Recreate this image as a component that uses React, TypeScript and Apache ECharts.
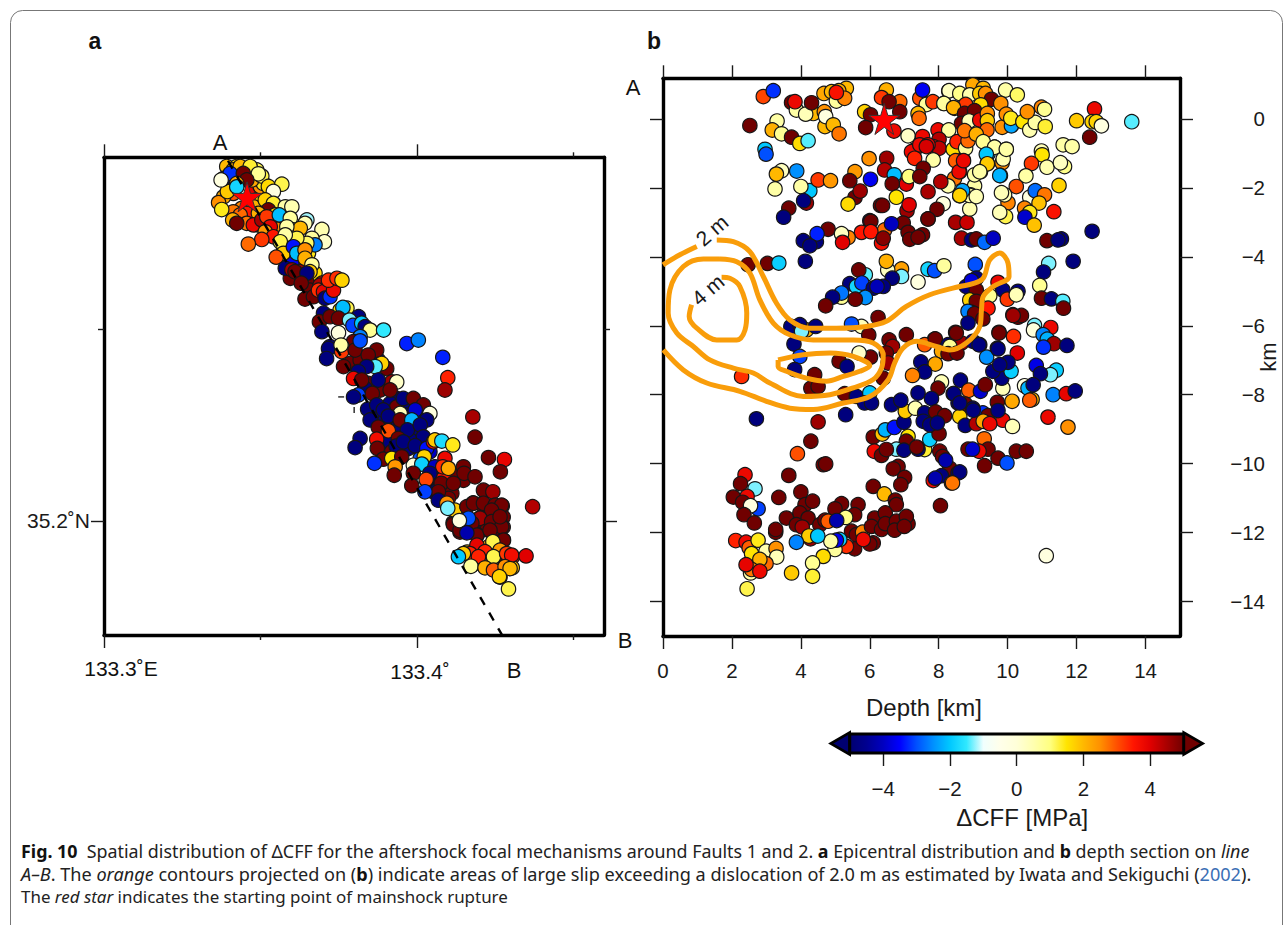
import React, { useEffect, useRef } from "react";
import * as echarts from "echarts";

type P = [number, number, number];

const colorStops = ["#000070","#000090","#0000c0","#0000ff","#0050ff","#0090ff","#00c8ff","#30e8ff","#f0fffe","#ffffea","#ffffd8","#ffffb0","#ffff80","#ffe400","#ffb800","#ff9000","#ff5000","#ff1500","#e00000","#a80000","#700000"];
const colorbarTicks = [-4, -2, 0, 2, 4];

const lonMajor = [133.3, 133.4];
const lonMinor = [133.35, 133.45];
const latMajor = [35.2];
const latMinor = [35.25];
const depthTicks = [0, 2, 4, 6, 8, 10, 12, 14];
const kmTicks = [0, -2, -4, -6, -8, -10, -12, -14];

const mapStar: [number, number] = [133.3457, 35.2844];
const sectionStar: [number, number] = [6.42, 0];
const profileLine = [[133.3396, 35.2938], [133.4275, 35.1698]];
const crossH = [[133.3748, 35.2323], [133.3767, 35.2323]];
const crossV = [[133.3799, 35.2297], [133.3799, 35.2281]];

const mapPoints: P[] = [
[133.3392,35.2923,2],[133.3424,35.2923,1.6],[133.3451,35.2914,2.4],[133.3403,35.2879,1.5],[133.3413,35.2853,3],[133.3382,35.2844,2.2],[133.3440,35.2814,2.6],[133.3477,35.2862,4],[133.3488,35.2836,1.7],[133.3504,35.2818,5],[133.3477,35.2818,2.1],[133.3525,35.2858,.9],[133.3499,35.2871,2.5],[133.3531,35.2823,4.5],[133.3509,35.2879,1.4],[133.3472,35.2888,2.2],[133.3488,35.2914,1.2],[133.3413,35.2805,2.7],[133.3456,35.2801,3.5],[133.3493,35.2771,2.9],[133.3520,35.2779,4.6],[133.3557,35.2771,3.9],[133.3573,35.2749,1.4],[133.3547,35.2762,2.5],[133.3595,35.2719,1.8],[133.3627,35.2714,2.2],[133.3653,35.2697,1.4],[133.3573,35.2714,2.4],[133.3584,35.2684,2.8],[133.3627,35.2671,5],[133.3600,35.2671,-3.6],[133.3627,35.2649,4.6],[133.3595,35.2632,5],[133.3674,35.2645,1.6],[133.3648,35.2623,5],[133.3658,35.2601,5],[133.3696,35.2619,3.6],[133.3733,35.2623,-3.5],[133.3722,35.2606,3.3],
[133.3786,35.2410,5],[133.3765,35.2402,5],[133.3818,35.2419,5],[133.3860,35.2428,5],[133.3903,35.2397,5],[133.3876,35.2419,-4.8],[133.3919,35.2362,4.6],[133.3844,35.2358,5],[133.3834,35.2345,-4.8],[133.3882,35.2341,5],[133.3935,35.2319,-4.8],[133.3914,35.2306,-4.8],[133.3972,35.2297,-4.8],[133.3935,35.2297,5],[133.4010,35.2276,-4.8],[133.3871,35.2276,-4.8],[133.3919,35.2254,-4.8],[133.3962,35.2276,-4.8],[133.3898,35.2263,-4.8],[133.3988,35.2245,-4.8],[133.3951,35.2245,-4],[133.3930,35.2232,-4.8],[133.4004,35.2219,-4.8],[133.3978,35.2211,-4.8],[133.3908,35.2206,-4.8],[133.3972,35.2189,-4.8],[133.4010,35.2185,-4.8],[133.3919,35.2180,5],[133.4041,35.2180,-4],[133.4010,35.2163,-3],[133.3988,35.2145,-.1],[133.4047,35.2102,-4.8],[133.4052,35.2076,-4.8],[133.4031,35.2106,-4.8],[133.4073,35.2063,-4.8],[133.4111,35.2072,5],[133.4100,35.2059,5],[133.4148,35.2106,5],[133.4116,35.2119,5],[133.4084,35.2111,3.6],
[133.4179,35.2047,5],[133.4208,35.2042,5],[133.4240,35.2029,5],[133.4272,35.2039,5],[133.4153,35.2029,5],[133.4201,35.2008,5],[133.4243,35.1997,5],[133.4275,35.2010,5],[133.4115,35.1995,5],[133.4137,35.1971,5],[133.4179,35.1990,5],[133.4224,35.1977,5],[133.4275,35.1984,5],[133.4192,35.1964,5],[133.4243,35.1969,5],[133.4217,35.2076,5],[133.4275,35.1951,5],
[133.4243,35.1945,1.2],[133.4160,35.1919,1.8],[133.4227,35.1932,2.2],[133.4259,35.1924,2.9],[133.4288,35.1911,3.2],[133.4304,35.1906,3.4],[133.4243,35.1906,1.2],[133.4176,35.1885,.7],[133.4304,35.1878,1.8],[133.4281,35.1883,2.5],[133.4265,35.1854,1.8],[133.4243,35.1878,3],
[133.3366,35.2829,2.5],[133.3376,35.2811,1.4],[133.3394,35.2858,1.8],[133.3413,35.2914,2.1],[133.3435,35.2923,2.0],[133.3467,35.2923,1.3],[133.3504,35.2898,1.2],[133.3493,35.2904,.8],[133.3525,35.2871,1.6],[133.3568,35.2877,1.2],[133.3541,35.2858,-.2],[133.3382,35.2892,-4.8],[133.3403,35.2905,-3.2],[133.3374,35.2888,-.2],[133.3445,35.2905,5],[133.3456,35.2888,5],[133.3424,35.2879,2.2],[133.3424,35.2870,-1.8],[133.3515,35.2836,1.7],[133.3541,35.2827,1.3],[133.3525,35.2810,5],[133.3493,35.2801,2.1],[133.3547,35.2797,1.8],[133.3435,35.2797,2.8],[133.3411,35.2784,2.1],[133.3456,35.2775,2.7],[133.3477,35.2771,3.8],[133.3424,35.2775,5],[133.3504,35.2784,4.5],[133.3520,35.2792,3.2],[133.3531,35.2766,3.9],[133.3515,35.2753,2.4],[133.3541,35.2740,3.5],[133.3504,35.2733,3.2],[133.3461,35.2721,2.8],
[133.3579,35.2818,.6],[133.3600,35.2818,.5],[133.3560,35.2797,-2.1],[133.3595,35.2788,.7],[133.3605,35.2758,.7],[133.3648,35.2784,-1.2],[133.3642,35.2775,.4],[133.3696,35.2759,.5],[133.3704,35.2727,.2],[133.3664,35.2736,.7],[133.3674,35.2719,-2.6],[133.3648,35.2723,1.1],[133.3627,35.2762,2.0],[133.3584,35.2766,.6],[133.3616,35.2736,1.2],[133.3579,35.2745,.6],[133.3563,35.2727,1.2],[133.3573,35.2697,1.8],[133.3550,35.2687,3.0],[133.3605,35.2714,-3.4],[133.3616,35.2697,-2.1],[133.3642,35.2706,2.5],[133.3642,35.2684,2.1],[133.3664,35.2667,.7],[133.3658,35.2649,1.8],[133.3579,35.2658,-4.8],[133.3600,35.2654,4.5],[133.3610,35.2649,5],[133.3648,35.2645,-4.8],[133.3630,35.2619,5],[133.3642,35.2578,5],[133.3669,35.2584,5],[133.3690,35.2614,4.5],[133.3685,35.2601,3.3],[133.3701,35.2597,3.9],[133.3706,35.2580,-4.8],[133.3722,35.2584,-3.2],[133.3733,35.2601,3.8],[133.3717,35.2627,3.3],[133.3744,35.2632,3.3],[133.3760,35.2627,1.7],[133.3754,35.2549,1.5],[133.3776,35.2554,1.2],[133.3763,35.2556,-2.1],[133.3701,35.2541,-4.8],[133.3688,35.2519,5],[133.3722,35.2532,5],[133.3749,35.2528,5],[133.3696,35.2493,-4.8],[133.3749,35.2490,-.2],[133.3813,35.2532,-4.8],[133.3784,35.2523,-1.3],[133.3795,35.2509,-3.1],[133.3823,35.2515,-2],[133.3834,35.2506,-4.8],[133.3850,35.2497,.8],[133.3818,35.2480,-2.6],[133.3893,35.2497,-1.5],[133.3797,35.2467,5],[133.3760,35.2454,.6],[133.3722,35.2454,-4.8],[133.3871,35.2445,5],
[133.3717,35.2449,-4.8],[133.3711,35.2423,-4.8],[133.3759,35.2441,3.2],[133.3757,35.2458,.6],[133.3802,35.2445,5],[133.3844,35.2432,5],[133.3818,35.2469,-3],[133.3967,35.2462,-3.3],[133.4004,35.2471,-2.6],[133.4082,35.2426,-3.3],[133.4098,35.2373,3.4],[133.4089,35.2341,4.6],[133.3887,35.2410,1.7],[133.3866,35.2402,-1.4],[133.3839,35.2402,-4.8],[133.3812,35.2389,-4.8],[133.3797,35.2371,3.8],[133.3823,35.2367,5],[133.3876,35.2367,-4.8],[133.3935,35.2362,.2],[133.3914,35.2341,5],[133.3857,35.2332,5],[133.3812,35.2328,-3.1],[133.3797,35.2323,-4.8],[133.3956,35.2319,-4.8],[133.3988,35.2319,5],[133.4020,35.2302,5],[133.4041,35.2280,-.2],[133.3842,35.2291,-4.8],[133.3871,35.2302,-4.8],[133.3892,35.2289,-4.8],[133.3946,35.2280,.4],[133.3994,35.2289,-3.9],[133.3850,35.2263,-4.8],[133.3908,35.2273,-4.8],[133.4031,35.2263,-4.8],[133.3946,35.2263,5],[133.3983,35.2263,-2.2],[133.3876,35.2244,5],[133.3908,35.2235,3.0],[133.3969,35.2237,-4.8],[133.4010,35.2250,-4.8],[133.4020,35.2219,-4.8],[133.3871,35.2213,3.7],[133.3818,35.2215,-4.8],[133.3802,35.2191,-4.8],[133.3873,35.2189,5],[133.3940,35.2215,5],[133.3933,35.2195,-4.8],[133.3956,35.2206,-4.8],[133.3994,35.2196,-4.8],[133.4031,35.2189,-3.4],[133.4052,35.2206,3.6],[133.4057,35.2211,1.8],[133.4079,35.2208,-1.7],[133.4114,35.2198,1.4],[133.3892,35.2161,5],[133.3919,35.2163,1.5],[133.3951,35.2167,5],[133.3864,35.2150,-3.2],[133.3930,35.2141,2.4],[133.3927,35.2119,5],[133.4023,35.2167,1.7],[133.4015,35.2148,-1.9],[133.4089,35.2163,3.8],[133.4057,35.2141,-4],[133.4082,35.2141,3.3],[133.4100,35.2137,2.2],[133.4148,35.2141,5],[133.4150,35.2124,5],[133.4185,35.2115,5],[133.4228,35.2165,5],[133.4279,35.2160,3.9],[133.4266,35.2128,5],[133.4178,35.2271,4.5],[133.4185,35.2218,5],[133.4041,35.2124,-4.8],[133.3988,35.2124,5],[133.3983,35.2092,5],[133.4077,35.2098,5],[133.4068,35.2076,5],[133.4116,35.2098,5],[133.4029,35.2108,3.1],[133.4025,35.2076,-3.1],[133.4068,35.2054,-4.8],[133.4095,35.2046,2.5],[133.4121,35.2028,1.8],[133.4098,35.2033,-1.3],
[133.4159,35.2037,5],[133.4180,35.2046,5],[133.4212,35.2080,5],[133.4242,35.2076,4.6],[133.4212,35.2046,5],[133.4249,35.2041,5],[133.4270,35.2041,5],[133.4238,35.2028,5],[133.4201,35.2007,4.6],[133.4238,35.1998,5],[133.4270,35.1985,5],[133.4116,35.1991,5],[133.4137,35.1976,5],[133.4175,35.1994,5],[133.4191,35.1963,5],[133.4276,35.1950,5],[133.4233,35.1976,5],[133.4265,35.2011,5],[133.4369,35.2037,4.4],[133.4164,35.2007,-3],[133.4135,35.2001,-.2],[133.4159,35.1969,-4.2],
[133.4242,35.1946,1.2],[133.4191,35.1937,3.9],[133.4265,35.1924,2.4],[133.4217,35.1920,3.4],[133.4169,35.1915,3.4],[133.4148,35.1915,1.8],[133.4196,35.1907,3.4],[133.4244,35.1907,1.2],[133.4286,35.1915,3.2],[133.4302,35.1911,3.7],[133.4348,35.1909,4.0],[133.4132,35.1907,-2],[133.4172,35.1882,.7],[133.4217,35.1878,2.1],[133.4244,35.1872,2.9],[133.4281,35.1881,2.5],[133.4297,35.1876,2.0],[133.4263,35.1855,1.7],[133.4292,35.1823,1.2],
];

const sectionPoints: P[] = [
[2.91,.65,3.1],[3.20,.82,-3.2],[2.52,-.19,5],[3.31,-.06,.6],[3.17,-.32,2.1],[3.44,-.43,.8],[3.73,-.53,5],[3.97,-.71,1.6],[4.21,-.63,-1.4],[2.96,-.88,-2],[2.99,-1.02,-3],[3.44,-1.50,.3],[3.29,-1.60,2],[3.88,-1.51,-2.5],[3.25,-2.03,.6],[4.26,-2.08,-2],[4.0,-1.96,.6],[4.50,-1.77,3.2],[4.86,-1.79,2.4],[4.16,-2.44,4.6],[4.08,-2.37,-4.8],[3.65,-2.59,5],[3.50,-2.85,-4.8],[3.73,.48,5],[3.87,.26,.6],[3.83,.50,3.8],[4.36,.16,2],[4.14,.14,.4],[4.31,.47,5],[4.67,.74,2.2],[4.89,.79,2],[5.32,.89,2],[5.10,.82,2.1],[5.03,.52,.7],[5.27,.60,2.6],[5.03,.77,3.6],[4.68,.21,2.5],[4.70,-.22,2],[4.72,.07,-.2],[4.94,-.17,2],[5.11,-.43,2.7],[5.85,.21,1.7],[6.02,.12,5],[5.88,-.25,5],[6.48,.84,2.1],[6.34,.62,3.2],[6.87,.50,2.8],[6.56,.50,5],[6.87,.21,5],[6.70,-.35,3.8],[7.11,-.49,.2],[7.45,.60,3],[7.53,.84,-3.6],[7.64,.42,.7],[7.40,.16,2],[7.43,.02,2.8],[8.29,.81,.3],[7.83,.50,3.2],[8.46,.31,2],[8.15,.45,.7],
[5.98,-1.15,2.5],[6.49,-1.14,4.6],[6.43,-1.48,4.4],[6.71,-1.62,-2.1],[5.57,-1.53,2.4],[5.42,-1.79,5],[6.02,-1.75,-3.6],[7.06,-1.89,4],[7.14,-1.67,1],[6.65,-1.88,5],[6.77,-2.27,1.5],[5.57,-2.28,5],[5.72,-2.09,4.6],[5.37,-2.47,1.6],[6.31,-2.51,5],[7.08,-2.66,4.6],[7.14,-2.49,4],[6.97,-3.02,5],[7.69,-2.90,5],[6.0,-2.95,-4.8],[6.03,-2.97,5],[6.43,-3.22,2.8],[6.63,-3.04,-4],[5.76,-3.29,3.5],[6.34,-3.60,3.7],[6.03,-3.27,3.5],[6.39,-3.46,4.8],[4.79,-3.20,5],[5.37,-3.44,2.6],[5.18,-3.33,.3],[5.21,-3.58,4],[4.45,-3.56,-4.8],[4.47,-3.33,-3.3],[4.07,-3.53,-4.8],[4.26,-3.68,-4.8],[7.11,-3.29,5],[7.16,-3.49,5],[7.53,-3.36,5],[7.40,-3.43,5],
[2.47,-4.23,5],[3.03,-4.19,5],[3.36,-4.18,-1.9],[4.13,-4.13,-4.8],[6.92,-4.35,2.3],[6.52,-4.38,.3],[6.48,-4.13,2.1],[6.92,-4.57,-1.3],[6.65,-4.62,-4.8],[7.40,-4.73,-.2],[7.69,-4.36,-1.8],[7.88,-4.40,-3],[8.15,-4.26,.7],[5.87,-4.52,-1.4],[5.68,-4.38,5],[5.42,-4.78,-4.8],[5.61,-4.86,-1.8],[5.77,-4.76,-3.1],[6.10,-4.91,-4.8],[6.39,-4.86,-4.8],[6.21,-4.86,-4.1],[5.18,-5.17,.8],[5.18,-5.05,-2.7],[4.92,-5.17,-4.8],[5.87,-5.18,-2.5],[5.58,-5.23,5],[4.72,-5.42,5],[6.24,-5.76,5],[5.76,-6.02,.4],[5.47,-5.95,-3],[5.97,-6.27,5],[7.06,-6.26,5],[6.56,-6.41,5],[7.88,-6.39,5],[7.59,-6.55,2.9],[4.16,-6.12,2],[3.71,-6.02,-4.8],[3.97,-5.97,-4.8],[4.43,-6.02,-4.8],[4.02,-6.16,-1.3],[3.80,-6.53,-4.8],[3.97,-6.89,-3.1],
[8.80,-4.86,-4.8],[9.06,-4.22,-3],[9.09,-4.62,-4.8],[8.95,-4.69,-3.8],[9.09,-4.96,5],[9.72,-4.74,3.8],[9.86,-4.96,-4.8],[9.48,-5.13,.8],[8.90,-5.25,1.7],[9.99,-5.23,3.2],[10.30,-5.00,-4.8],[10.25,-5.1,.4],[9.09,-5.29,5],[8.95,-5.61,1.7],[8.85,-5.58,-2.6],[9.43,-5.49,3.5],[9.04,-5.65,5],[9.28,-5.80,5],[8.85,-5.92,-4.8],[10.15,-5.68,4.5],[10.30,-5.75,5],[9.75,-6.19,5],[10.17,-6.31,3.3],[10.28,-6.79,4],
[8.49,-6.19,5],[8.66,-6.50,4.6],[7.90,-6.38,5],[8.08,-6.74,2.2],[8.27,-6.55,-4.8],[8.32,-6.60,.8],[8.27,-6.81,5],[8.53,-6.79,5],[8.99,-6.45,-4.8],[9.19,-6.55,-4.8],[9.70,-6.65,-4.8],[9.39,-6.91,-2.5],[7.48,-7.05,-4.8],[7.90,-7.11,2.2],[7.59,-7.34,-4.8],[7.24,-7.44,2.6],[8.63,-7.58,-4.8],[8.08,-7.63,.4],[7.98,-7.81,5],[7.40,-7.95,-4.8],[7.79,-8.11,-4.8],[8.42,-7.97,-4.8],[8.87,-7.87,2.9],[9.21,-7.90,-3.9],[9.35,-7.71,5],[8.56,-8.24,-4.8],[8.77,-8.27,5],[9.86,-7.81,.4],[9.83,-7.52,-4.8],[9.57,-7.32,-4.8],[10.10,-7.32,-1.9],[10.01,-7.06,-4.8],[9.77,-7.13,-4.8],[10.13,-8.19,2.2],[9.70,-8.22,5],[9.28,-8.53,-3.2],[8.99,-8.39,-4.8],[8.61,-8.63,1.7],[9.43,-8.61,5],[9.86,-8.74,3.8],[9.72,-8.46,-4.8],[8.77,-8.89,-4.8],[9.09,-8.84,4.4],[9.29,-8.77,2.2],[9.48,-8.84,3.8],[10.14,-8.92,.4],
[6.66,-6.60,4.6],[6.48,-6.79,5],[6.53,-7.08,4.6],[6.39,-7.52,5],[6.02,-6.91,5],[5.69,-6.79,.2],[5.11,-7.03,5],[5.34,-7.18,-4.8],[4.40,-7.42,5],[4.29,-7.81,5],[4.50,-7.76,5],[3.82,-7.27,-4.8],[5.27,-7.97,5],[5.61,-8.05,-4.8],[6.0,-7.95,-2],[5.85,-8.24,-4.8],[6.05,-8.24,-4.8],[5.30,-8.58,-4.8],[2.28,-7.47,3.3],[2.71,-8.70,-4.8],[4.50,-8.79,4.6],[4.29,-9.35,5],[3.90,-9.71,3],[4.65,-10.03,5],[4.72,-10.01,5],[3.65,-10.34,5],
[2.38,-10.32,3.8],[2.25,-10.58,5],[2.67,-10.73,-1.3],[2.04,-10.97,5],[2.44,-10.95,3.8],[2.31,-11.12,5],[2.76,-11.31,-3.1],[2.54,-11.22,-.2],[2.35,-11.48,5],[2.65,-11.72,5],[3.36,-10.98,5],[4.0,-10.82,5],[4.12,-11.19,5],[4.34,-11.09,5],[3.97,-11.43,5],[4.21,-11.58,5],[3.58,-11.58,5],[3.87,-11.77,5],[4.04,-11.84,4.6],[3.27,-11.99,5],[3.27,-11.91,5],[5.18,-11.16,5],[4.99,-11.31,5],[5.66,-11.19,5],[5.56,-11.48,5],[4.55,-11.77,5],[4.70,-11.64,5],[4.79,-11.67,2.9],[5.30,-11.56,.9],[5.04,-11.65,-4.2],[5.47,-11.96,5],[5.61,-12.06,5],[5.79,-11.99,2.6],[6.10,-10.66,5],[6.42,-10.88,2],[6.74,-11.06,5],[6.77,-11.19,5],[6.14,-11.58,5],[6.45,-11.43,5],[6.05,-11.82,5],[6.34,-11.91,5],[6.45,-11.74,5],[6.77,-11.67,5],[6.72,-11.93,5],[7.11,-11.74,5],[7.06,-11.53,5],[7.0,-11.82,5],[6.10,-12.30,5],[6.0,-12.33,5],[5.56,-12.47,5],[5.81,-12.20,3.8],[5.32,-12.40,3.3],[4.99,-12.49,.7],[5.13,-12.20,-1.9],[5.03,-12.22,-3.6],[4.87,-12.25,.6],[4.28,-12.18,4.6],[4.23,-12.10,1.8],[4.49,-12.10,-2],[3.87,-12.28,-2.6],[4.65,-12.69,1.6],[4.34,-12.88,.8],[4.34,-13.27,1.3],[3.73,-13.17,1.8],[2.44,-13.63,1.2],
[2.11,-12.23,3.4],[2.41,-12.28,3.8],[2.50,-12.44,2.9],[2.76,-12.22,1.4],[2.57,-12.61,1.5],[2.54,-13.17,.6],[2.99,-12.54,.5],[3.28,-12.46,2.5],[3.30,-12.71,.4],[2.99,-12.90,2.8],[2.81,-12.78,2.1],[2.57,-13.07,2.7],[2.81,-13.12,3.8],[2.41,-12.93,3.9],
[6.10,-9.23,5],[6.36,-9.14,1.9],[6.45,-9.02,-2.2],[6.71,-8.95,-3.4],[6.99,-8.80,-4.8],[7.11,-9.21,1.5],[7.06,-9.35,5],[6.77,-9.58,-1.3],[7.59,-9.59,1.3],[7.40,-9.58,-4.8],[6.99,-9.61,-4.8],[7.36,-9.52,5],[7.74,-9.30,-1.9],[8.01,-9.13,5],[7.03,-8.48,1.8],[7.32,-8.39,.5],[6.63,-8.29,-4.8],[6.90,-8.16,-4.8],[7.59,-8.53,-4.8],[7.91,-8.50,5],[8.17,-8.61,5],[7.55,-8.77,-4.8],[7.74,-8.87,-4.8],[7.96,-8.82,-4.8],[6.13,-9.64,3.8],[6.34,-9.76,5],[6.48,-9.59,5],[6.82,-10.08,5],[6.68,-10.15,5],[7.01,-10.40,5],[6.90,-10.61,5],[8.03,-9.64,5],[8.11,-9.79,5],[8.32,-10.13,5],[8.20,-9.90,-4.2],[7.84,-10.49,3.8],[8.56,-10.27,-4.8],[8.08,-10.35,-4.8],[7.90,-10.42,-4.2],[8.37,-10.56,2.5],[8.05,-11.22,5],
[8.44,-7.97,-4.8],[8.61,-8.24,-4.8],[9.0,-8.45,-4.8],[9.32,-9.28,2.8],[8.85,-9.58,5],[9.43,-9.58,5],[9.17,-9.64,3.8],[8.98,-9.58,-3.9],[9.72,-9.84,5],[9.98,-9.98,-3],[10.25,-9.64,5],[10.54,-9.64,5],[9.33,-10.06,5],[8.61,-10.24,-4.8],[8.40,-10.56,2.7],[11.12,-12.67,-.2],
[10.83,-7.15,-3.7],[11.41,-7.29,-1.9],[11.24,-7.42,-1.3],[10.95,-7.39,-4.8],[10.49,-7.74,-.2],[10.59,-7.81,-2.2],[10.74,-7.71,-4.8],[10.71,-8.14,2],[10.64,-8.16,2.9],[11.32,-8.0,-2.6],[11.70,-7.97,3.9],[11.96,-7.89,-4.8],[11.17,-8.65,3.8],[11.75,-8.94,2.5],
[12.52,.29,3.8],[12.0,-.05,1.8],[12.45,-.08,1.7],[12.57,-.08,1.7],[12.72,-.20,-.2],[12.38,-.53,5],[13.60,-.08,-1.4],[11.61,-.75,.6],[11.87,-.80,.6],[10.98,-.93,.4],[11.0,-1.04,1.5],[10.69,-1.29,3.2],[11.14,-1.40,.5],[11.65,-1.38,.9],[11.53,-1.27,.3],[11.49,-1.93,1.7],[10.53,-1.65,.6],[10.01,-2.43,2.6],[10.25,-1.96,3],[9.91,-2.20,.4],[9.82,-2.14,.4],[9.94,-2.83,1.2],[9.77,-2.71,.4],[10.64,-2.27,-.2],[10.80,-2.08,-2.8],[11.07,-2.20,2.7],[10.91,-2.44,1.9],[10.49,-2.59,2.6],[10.64,-2.71,1.4],[10.50,-2.85,-3.9],[10.77,-3.08,1.9],[11.34,-2.69,3.6],[12.45,-3.26,-4.8],[11.14,-3.53,5],[11.56,-3.48,-4.8],[11.46,-3.51,-4.8],[11.90,-4.13,-4.8],[11.19,-4.19,-1.3],[11.04,-4.44,-4.8],[10.93,-4.83,.8],[10.98,-5.20,5],[11.27,-5.22,-4.8],[11.60,-5.29,-1.4],[11.62,-5.49,5],[10.40,-5.70,5],[10.16,-5.70,4.6],[10.78,-5.99,-1.3],[10.75,-6.12,-.1],[11.25,-6.05,3.8],[9.75,-6.21,5],[11.03,-6.26,-2.6],[11.15,-6.39,-2.2],[11.34,-6.52,4.6],[11.04,-6.62,-3.2],[11.72,-6.57,-4.8],[9.17,-6.55,-4.8],[9.72,-6.67,-4.8],[8.51,-6.21,5],
[8.49,-3.0,4.5],[8.82,-3.0,4.2],[8.66,-3.46,4.5],[8.95,-3.51,-4.8],[9.09,-3.48,5],[9.33,-3.58,-2.8],[9.58,-3.46,-4],[8.90,-2.61,.5],[9.04,-1.94,.6],[8.92,-2.20,.4],[8.61,-2.23,1.7],[9.04,-1.62,.6],[9.21,-1.53,.6],[9.41,-1.30,1.8],[9.43,-1.01,-2.1],[9.62,-.82,.6],[9.96,-.88,.6],[9.84,-1.27,2.5],[9.87,-1.16,.5],[9.79,-1.64,-2.3],[8.46,-1.72,2.7],[8.51,-1.19,3],[8.71,-1.19,3.9],[8.61,-1.53,3.8],
[8.30,.82,.3],[8.61,.74,.9],[8.99,.99,2.2],[8.90,.70,.5],[9.29,.89,2],[9.19,.74,1.8],[9.36,.74,2.5],[9.94,.84,.6],[10.28,.70,1.1],[9.53,.57,5],[9.22,.41,1.6],[8.78,.42,3.2],[9.80,.45,2.5],[8.15,.45,.7],[8.43,.33,2.1],[8.75,.16,5],[9.04,.24,5],[8.66,-.13,5],[8.88,-.06,.4],[9.19,-.03,3.8],[9.41,.16,2.5],[9.41,-.05,1.8],[9.40,-.32,2.8],[9.84,-.24,2.5],[10.11,-.20,-2.3],[9.96,.14,2.5],[10.09,.02,1.4],[10.44,-.08,1.5],[10.64,-.32,.5],[10.80,-.10,.6],[10.57,.21,2.5],[10.98,.34,2.6],[11.07,.28,.8],[11.09,-.22,1.3],[7.98,-.32,3.8],[8.29,-.32,.6],[8.01,-.59,4.4],[7.53,-.51,3.8],[7.30,-.90,3.5],[7.21,-.95,3.8],[7.30,-1.14,3.4],[7.45,-.75,3.8],[7.84,-.80,3.9],[8.01,-.85,4.3],[7.69,-.75,3.9],[7.64,-.80,4.1],[7.84,-1.19,.6],[8.42,-.88,1.6],[8.53,-.66,3.4],[8.78,-.85,.7],[8.85,-.63,2.8],[8.75,-.34,2.7],[9.09,-.44,2.1],[9.29,-.66,.8],[9.62,-.82,.6],[9.38,-1.02,-2],[9.96,-.88,.6],[9.41,-1.30,1.8],[9.77,-1.64,-2.2],[9.19,-1.53,.6],[8.49,-1.21,2.9],[8.59,-1.53,3.8],[8.72,-1.21,3.8],[8.27,-1.94,.5],[8.06,-1.82,4.4],[7.69,-2.11,4.5],[8.13,-2.46,-.1],[7.95,-2.62,5],[7.69,-2.90,5],[6.37,-2.51,5],[7.55,-1.43,5],[7.45,-1.67,5],[8.90,-2.22,.5],[9.09,-2.25,.4],[8.69,-2.08,-2.3],[8.61,-2.22,1.7],
];

const contour2mA = [[0,-4.23],[.49,-3.94],[.98,-3.70]];
const contour2mB = [[1.56,-3.51],[2.04,-3.56],[2.52,-3.85],[2.91,-4.57],[3.29,-5.34],[3.68,-5.83],[4.26,-6.07],[5.03,-6.07],[5.90,-6.02],[6.48,-5.87],[7.06,-5.44],[7.74,-5.10],[8.61,-4.86],[8.99,-4.78],[9.29,-4.62],[9.48,-4.09],[9.77,-3.89],[10.01,-4.18],[10.04,-4.57],[9.58,-4.86],[9.29,-5.15],[9.24,-5.54],[9.19,-6.02],[8.80,-6.50],[8.32,-6.70],[7.93,-6.60],[7.35,-6.45],[6.96,-6.65],[6.72,-7.08],[6.53,-7.57],[6.0,-8.05],[5.23,-8.24],[4.36,-8.43],[3.68,-8.39],[3.0,-8.19],[2.23,-7.90],[1.27,-7.66],[.59,-7.28],[.01,-6.70]];
const contourMiddle = [[1.65,-4.06],[2.14,-4.14],[2.52,-4.47],[2.81,-5.25],[3.20,-5.92],[3.68,-6.26],[4.36,-6.41],[5.52,-6.41],[6.10,-6.50],[6.39,-6.84],[6.34,-7.23],[6.10,-7.56],[5.52,-7.80],[4.84,-8.0],[4.07,-8.05],[3.10,-7.66],[2.62,-7.37],[2.04,-7.23],[1.36,-6.99],[.88,-6.60],[.40,-6.21],[.15,-5.63],[.20,-4.96],[.59,-4.28],[1.17,-4.06],[1.65,-4.06]];
const contour4m = [[1.70,-4.59],[1.94,-4.62],[2.23,-4.86],[2.43,-5.63],[2.38,-6.12],[2.14,-6.41],[1.56,-6.41],[.98,-6.07],[.76,-5.73],[.83,-5.39]];
const contourInner = [[3.34,-6.99],[4.07,-6.84],[4.84,-6.79],[5.52,-6.89],[6.0,-7.16],[5.71,-7.32],[5.23,-7.47],[4.74,-7.61],[4.16,-7.52],[3.58,-7.32],[3.34,-7.18],[3.34,-6.99]];
const contourLabels = [[1.42,-3.23,"2 m"],[1.3,-4.96,"4 m"]];

const STAR = "path://M50 0 L61 35 L98 35 L68 57 L79 91 L50 70 L21 91 L32 57 L2 35 L39 35 Z";
const SANS = "'Liberation Sans', Arial, sans-serif";
const INK = "#1a1a1a";

const fmt = (v: number) => String(v).replace("-", "\u2212");

function axis(base: any, ticks: number[], len: number, line: boolean, labels = false, extra: any = {}) {
  return {
    type: "value", scale: true, splitLine: { show: false },
    axisLine: { show: line, onZero: false, lineStyle: { color: "#000", width: 3.4 } },
    axisTick: { show: true, length: len, customValues: ticks, lineStyle: { color: INK, width: 1.4 } },
    axisLabel: labels ? { show: true, customValues: ticks, color: INK, fontSize: 20.5, fontFamily: SANS, hideOverlap: false, formatter: fmt } : { show: false },
    ...base, ...extra,
  };
}

function contour(data: any[]) {
  return {
    type: "line", xAxisIndex: 4, yAxisIndex: 4, data, smooth: 0.35, symbol: "none", silent: true, z: 5,
    lineStyle: { color: "#f99d0a", width: 5 }, clip: false,
  };
}

export default function App() {
  const ref = useRef<HTMLDivElement>(null);
  useEffect(() => {
    const chart = echarts.init(ref.current!, undefined, { renderer: "svg" });
    const aX = { gridIndex: 0, min: 133.3, max: 133.4597 };
    const aY = { gridIndex: 0, min: 35.1703, max: 35.2947 };
    const bX = { gridIndex: 1, min: 0, max: 15 };
    const bY = { gridIndex: 1, min: -15, max: 1.18 };
    const pointStyle = { borderColor: "#161616", borderWidth: 1.2, opacity: 1 };
    const caption = (y: number, size: number, text: string) => ({
      type: "text", x: 21, y,
      style: {
        text, fill: "#222", fontFamily: "'Noto Sans'", fontSize: size,
        rich: {
          b: { fontWeight: "bold", fontSize: size, fontFamily: "'Noto Sans'", fill: "#111" },
          i: { fontStyle: "italic", fontSize: size, fontFamily: "'Noto Sans'", fill: "#222" },
          l: { fontSize: size, fontFamily: "'Noto Sans'", fill: "#3b6fb5" },
        },
      },
    });
    const plain = (x: number, y: number, text: string, size = 22, weight = "normal") => ({
      type: "text", x, y,
      style: { text, fill: "#111", fontFamily: SANS, fontSize: size, fontWeight: weight, align: "center", verticalAlign: "middle" },
    });
    chart.setOption({
      animation: false,
      backgroundColor: "#fff",
      visualMap: { show: false, min: -5, max: 5, dimension: 2, seriesIndex: [0, 1], inRange: { color: colorStops } },
      grid: [
        { left: 104, top: 157.3, width: 500, height: 477.7, outerBoundsMode: "none" },
        { left: 663, top: 78.3, width: 517, height: 557.7, outerBoundsMode: "none" },
        { left: 849.7, top: 734, width: 334, height: 19, outerBoundsMode: "none" },
      ],
      xAxis: [
        axis({ ...aX, position: "bottom" }, lonMajor, 13, true),
        axis({ ...aX, position: "bottom" }, lonMinor, 5, false),
        axis({ ...aX, position: "top" }, lonMajor, 13, true),
        axis({ ...aX, position: "top" }, lonMinor, 5, false),
        axis({ ...bX, position: "bottom" }, depthTicks, 13, true, true, {
          name: "Depth [km]", nameLocation: "middle", nameGap: 59, nameMoveOverlap: false,
          nameTextStyle: { color: INK, fontSize: 24, fontFamily: SANS, padding: [0, 0, 0, 5] },
        }),
        axis({ ...bX, position: "top" }, depthTicks, 13, true),
        axis({ gridIndex: 2, min: -5, max: 5, position: "bottom" }, colorbarTicks, 13, false, true, {
          name: "\u0394CFF [MPa]", nameLocation: "middle", nameGap: 52, nameMoveOverlap: false,
          nameTextStyle: { color: INK, fontSize: 24, fontFamily: SANS, padding: [0, 0, 0, 11] },
        }),
      ].map((a, i) => {
        if (i === 4) a.axisLabel.margin = 24;
        if (i === 6) a.axisLabel.margin = 25;
        return a;
      }),
      yAxis: [
        axis({ ...aY, position: "left" }, latMajor, 13, true, true, {}),
        axis({ ...aY, position: "left" }, latMinor, 6, false),
        axis({ ...aY, position: "right" }, latMajor, 13, true),
        axis({ ...aY, position: "right" }, latMinor, 6, false),
        axis({ ...bY, position: "left" }, kmTicks, 13, true),
        axis({ ...bY, position: "right" }, kmTicks, 13, true, true, {
          name: "km", nameLocation: "middle", nameGap: 77, nameRotate: 90, nameMoveOverlap: false,
          nameTextStyle: { color: INK, fontSize: 22, fontFamily: SANS },
        }),
        { type: "value", gridIndex: 2, min: 0, max: 1, show: false },
      ].map((a: any, i) => {
        if (i === 0) { a.axisLabel.margin = 14; a.axisLabel.fontSize = 21; a.axisLabel.formatter = (v: number) => v.toFixed(1) + "\u02DAN"; }
        if (i === 5) { a.axisLabel.align = "right"; a.axisLabel.margin = 85; }
        return a;
      }),
      series: [
        { type: "scatter", name: "map", xAxisIndex: 0, yAxisIndex: 0, data: mapPoints, symbolSize: 14.4, itemStyle: pointStyle, z: 3 },
        { type: "scatter", name: "section", xAxisIndex: 4, yAxisIndex: 4, data: sectionPoints, symbolSize: 14.4, itemStyle: pointStyle, z: 3 },
        { type: "line", xAxisIndex: 0, yAxisIndex: 0, data: crossH, symbol: "none", lineStyle: { color: "#222", width: 1.4 }, z: 2 },
        { type: "line", xAxisIndex: 0, yAxisIndex: 0, data: crossV, symbol: "none", lineStyle: { color: "#222", width: 1.4 }, z: 2 },
        { type: "line", xAxisIndex: 0, yAxisIndex: 0, data: profileLine, symbol: "none", clip: false, lineStyle: { color: "#000", width: 2.4, type: [9, 9] }, z: 4 },
        contour(contour2mA), contour(contour2mB), contour(contourMiddle), contour(contour4m), contour(contourInner),
        {
          type: "scatter", xAxisIndex: 4, yAxisIndex: 4, data: contourLabels, symbolSize: 2, itemStyle: { color: "rgba(0,0,0,0)", opacity: 1 }, z: 6,
          label: { show: true, position: "inside", rotate: 41, color: INK, fontSize: 21, fontFamily: SANS, opacity: 1, formatter: (p: any) => p.data[2] },
        },
        { type: "scatter", xAxisIndex: 0, yAxisIndex: 0, data: [mapStar], symbol: STAR, symbolSize: 30, itemStyle: { color: "#ff0000", opacity: 1, borderColor: "#333", borderWidth: 1 }, z: 7 },
        { type: "scatter", xAxisIndex: 4, yAxisIndex: 4, data: [sectionStar], symbol: STAR, symbolSize: 31, itemStyle: { color: "#ff0000", opacity: 1, borderColor: "#333", borderWidth: 1 }, z: 7 },
        {
          type: "custom", xAxisIndex: 6, yAxisIndex: 6, data: [[0, 0]], silent: true, clip: false,
          renderItem: (_: any, api: any) => {
            const p0 = api.coord([-5, 0]);
            const p1 = api.coord([5, 1]);
            const top = p1[1], bottom = p0[1], mid = (top + bottom) / 2;
            const stops = colorStops.map((color, i) => ({ offset: i / (colorStops.length - 1), color }));
            return {
              type: "group",
              children: [
                { type: "polygon", shape: { points: [[p0[0], top - 1.5], [p0[0], bottom + 1.5], [p0[0] - 19, mid]] }, style: { fill: colorStops[0], stroke: "#000", lineWidth: 2.6 } },
                { type: "polygon", shape: { points: [[p1[0], top - 1.5], [p1[0], bottom + 1.5], [p1[0] + 19, mid]] }, style: { fill: colorStops[colorStops.length - 1], stroke: "#000", lineWidth: 2.6 } },
                { type: "rect", shape: { x: p0[0], y: top, width: p1[0] - p0[0], height: bottom - top }, style: { fill: new echarts.graphic.LinearGradient(0, 0, 1, 0, stops), stroke: "#000", lineWidth: 3 } },
              ],
            };
          },
        },
      ],
      graphic: [
        { type: "rect", shape: { x: 10.5, y: 10.5, width: 1272, height: 960, r: 12 }, style: { fill: "none", stroke: "#777", lineWidth: 1 }, silent: true, z: -10 },
        plain(95, 41, "a", 23, "bold"),
        plain(654, 41, "b", 23, "bold"),
        plain(220, 142, "A"),
        plain(514, 670, "B"),
        plain(633, 87, "A"),
        plain(625, 640, "B"),
        plain(121, 668, "133.3\u02DAE", 21),
        plain(420, 671, "133.4\u02DA", 21),
        caption(842, 17.85, "{b|Fig. 10}  Spatial distribution of \u0394CFF for the aftershock focal mechanisms around Faults 1 and 2. {b|a} Epicentral distribution and {b|b} depth section on {i|line}"),
        caption(865, 18.1, "{i|A\u2013B}. The {i|orange} contours projected on ({b|b}) indicate areas of large slip exceeding a dislocation of 2.0 m as estimated by Iwata and Sekiguchi ({l|2002})."),
        caption(888, 16.95, "The {i|red star} indicates the starting point of mainshock rupture"),
      ],
    });
    return () => chart.dispose();
  }, []);
  return <div ref={ref} style={{ position: "absolute", left: 0, top: 0, width: 1285, height: 925 }} />;
}
